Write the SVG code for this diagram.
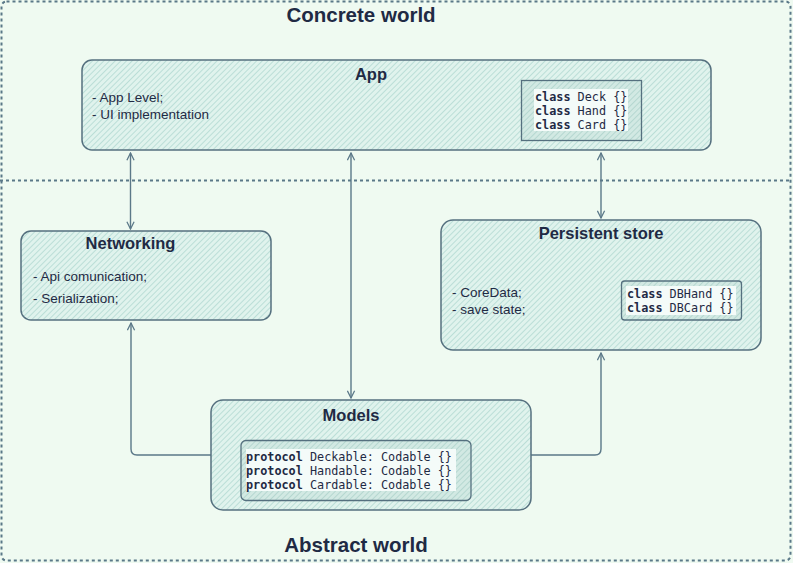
<svg xmlns="http://www.w3.org/2000/svg" width="793" height="563" viewBox="0 0 793 563">
<style>
.box{fill:url(#hatch);stroke:#55707f;stroke-width:1.5}
.inner{fill:url(#hatch2);stroke:#55707f;stroke-width:1.3}
.title{font-family:"Liberation Sans",Arial,sans-serif;font-weight:bold;fill:#1f2a44;text-anchor:middle}
.t{font-family:"Liberation Sans",Arial,sans-serif;font-size:13.5px;fill:#1f2a44}
.code{font-family:"DejaVu Sans Mono",monospace;font-size:11.8px;fill:#1f2a44}
.kw{font-weight:bold}
.hl{fill:#f4fbf9}
.conn{fill:none;stroke:#5b7888;stroke-width:1.4}
.frame{fill:none;stroke:#5a7888;stroke-width:2;stroke-dasharray:3 3}
</style>
<defs>
<pattern id="hatch" width="4" height="4" patternUnits="userSpaceOnUse" patternTransform="rotate(45)">
<rect width="4" height="4" fill="#e0f3ed"/>
<line x1="0" y1="0" x2="0" y2="4" stroke="#a3d0c8" stroke-width="1.2"/>
</pattern>
<pattern id="hatch2" width="4" height="4" patternUnits="userSpaceOnUse" patternTransform="rotate(45)">
<rect width="4" height="4" fill="#d2e9e3"/>
<line x1="0" y1="0" x2="0" y2="4" stroke="#a2cbc3" stroke-width="1.2"/>
</pattern>
<marker id="arr" viewBox="0 0 10 10" refX="9" refY="5" markerWidth="9" markerHeight="9" orient="auto-start-reverse" markerUnits="userSpaceOnUse">
<path d="M1,1 L9,5 L1,9" fill="none" stroke="#5b7888" stroke-width="1.4"/>
</marker>
</defs>
<rect width="793" height="563" fill="#effaf1"/>
<g id="frames">
<rect class="frame" x="1.5" y="1.5" width="789" height="559" rx="5"/>
<line class="frame" x1="0" y1="180.5" x2="792" y2="180.5"/>
<text class="title" x="361" y="22" font-size="20.5">Concrete world</text>
<text class="title" x="356" y="552" font-size="20.5">Abstract world</text>
</g>
<g id="connectors">
<line class="conn" x1="130.5" y1="153" x2="130.5" y2="229" marker-start="url(#arr)" marker-end="url(#arr)"/>
<line class="conn" x1="351" y1="153" x2="351" y2="398" marker-start="url(#arr)" marker-end="url(#arr)"/>
<line class="conn" x1="601" y1="153" x2="601" y2="218" marker-start="url(#arr)" marker-end="url(#arr)"/>
<path class="conn" d="M211,455 L137,455 Q131,455 131,449 L131,323" marker-end="url(#arr)"/>
<path class="conn" d="M531,455 L595,455 Q601,455 601,449 L601,353" marker-end="url(#arr)"/>
</g>
<g id="app">
<rect class="box" x="82" y="60" width="629" height="90" rx="10"/>
<text class="title" x="371" y="80" font-size="16.5">App</text>
<text class="t" x="92" y="102">- App Level;</text>
<text class="t" x="92" y="119">- UI implementation</text>
<rect class="inner" x="521.5" y="80.5" width="120" height="60"/>
<rect class="hl" x="534" y="89" width="94" height="42"/>
<text class="code" x="535" y="101"><tspan class="kw">class</tspan> Deck {}</text>
<text class="code" x="535" y="115"><tspan class="kw">class</tspan> Hand {}</text>
<text class="code" x="535" y="129"><tspan class="kw">class</tspan> Card {}</text>
</g>
<g id="networking">
<rect class="box" x="21" y="231" width="250" height="89" rx="10"/>
<text class="title" x="130.5" y="249" font-size="16.5">Networking</text>
<text class="t" x="33" y="281">- Api comunication;</text>
<text class="t" x="33" y="303">- Serialization;</text>
</g>
<g id="persistent">
<rect class="box" x="441" y="220" width="320" height="130" rx="12"/>
<text class="title" x="601" y="239" font-size="16.5">Persistent store</text>
<text class="t" x="452" y="297">- CoreData;</text>
<text class="t" x="452" y="314">- save state;</text>
<rect class="inner" x="621.5" y="281" width="120" height="39" rx="3"/>
<rect class="hl" x="626" y="286" width="110" height="29"/>
<text class="code" x="627" y="298"><tspan class="kw">class</tspan> DBHand {}</text>
<text class="code" x="627" y="312"><tspan class="kw">class</tspan> DBCard {}</text>
</g>
<g id="models">
<rect class="box" x="211" y="400" width="320" height="110" rx="12"/>
<text class="title" x="351" y="421" font-size="16.5">Models</text>
<rect class="inner" x="241" y="440.5" width="230" height="60" rx="5"/>
<rect class="hl" x="246" y="449" width="210" height="42"/>
<text class="code" x="246" y="461"><tspan class="kw">protocol</tspan> Deckable: Codable {}</text>
<text class="code" x="246" y="475"><tspan class="kw">protocol</tspan> Handable: Codable {}</text>
<text class="code" x="246" y="489"><tspan class="kw">protocol</tspan> Cardable: Codable {}</text>
</g>
</svg>
